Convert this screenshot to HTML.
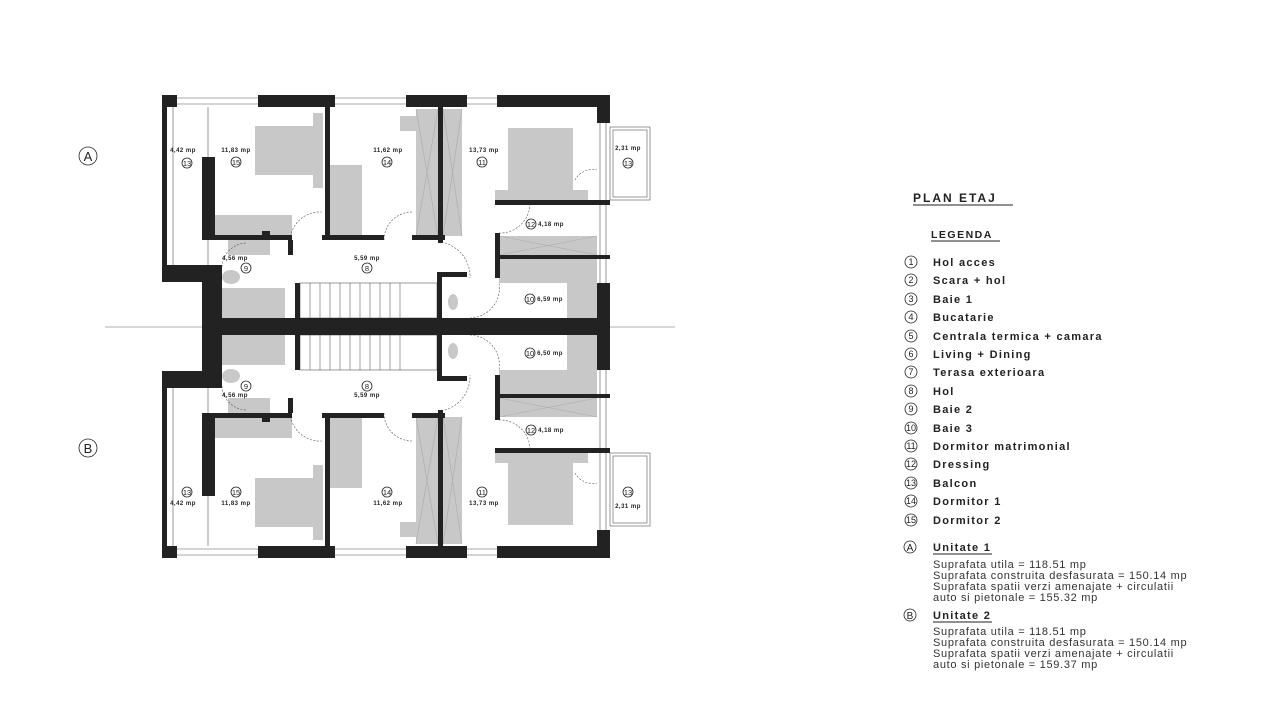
<!DOCTYPE html>
<html><head><meta charset="utf-8"><style>
html,body{margin:0;padding:0;background:#fff;}
svg{display:block;font-family:"Liberation Sans",sans-serif;}
.l{font-size:6px;fill:#222;text-anchor:middle;letter-spacing:0.5px;font-weight:bold}
.c{fill:none;stroke:#222;stroke-width:0.8}
.n{font-size:7.5px;fill:#222;text-anchor:middle}
.m{font-size:9px;fill:#222;text-anchor:middle}
.lg{font-size:11px;font-weight:bold;fill:#222;letter-spacing:1.3px}
.t{font-size:11px;fill:#333;letter-spacing:0.7px}
</style></head><body>
<svg width="1270" height="710" viewBox="0 0 1270 710" xmlns="http://www.w3.org/2000/svg">
<line x1="105" y1="327" x2="675" y2="327" stroke="#999" stroke-width="0.8"/>
<defs>
<g id="half">
 <g fill="#c8c8c8">
  <rect x="255" y="126" width="58" height="49"/>
  <rect x="313" y="113" width="10" height="75"/>
  <rect x="215" y="215" width="77" height="20"/>
  <rect x="330" y="165" width="32" height="70"/>
  <rect x="400" y="116" width="25" height="15"/>
  <rect x="416" y="109" width="22" height="127"/>
  <rect x="443" y="109" width="19" height="127"/>
  <rect x="508" y="128" width="65" height="72"/>
  <rect x="495" y="190" width="93" height="10"/>
  <rect x="499" y="236" width="98" height="19"/>
  <rect x="499" y="259" width="98" height="24"/>
  <rect x="567" y="283" width="30" height="35"/>
  <rect x="228" y="240" width="42" height="15"/>
  <rect x="222" y="288" width="63" height="30"/>
  <ellipse cx="231" cy="277" rx="9" ry="7"/>
  <ellipse cx="453" cy="302" rx="5" ry="8"/>
 </g>
 <g stroke="#aaa" stroke-width="0.6" fill="none">
  <path d="M416 109L438 236M438 109L416 236M443 109L462 236M462 109L443 236M499 236L597 255M597 236L499 255"/>
 </g>
 <rect x="300" y="283" width="137" height="35" fill="#fff" stroke="#555" stroke-width="0.6"/>
 <g stroke="#666" stroke-width="0.6">
  <path d="M310 283V318M320 283V318M330 283V318M340 283V318M350 283V318M360 283V318M370 283V318M380 283V318M390 283V318M400 283V318"/>
 </g>
 <g stroke="#555" stroke-width="0.6" fill="none">
  <path d="M177 98H258M177 104H258M335 98H406M335 104H406M467 98H497M467 104H497"/>
  <path d="M600 123V283M606 123V283M173 107V265M208 107V265"/>
  <rect x="610" y="127" width="40" height="73"/>
  <rect x="613" y="130" width="34" height="67"/>
  <path d="M290 240A30 30 0 0 1 322 212M384 240A28 28 0 0 1 412 212M445 243A35 35 0 0 1 470 278M499 233A30 30 0 0 0 530 205M470 318A30 30 0 0 0 499 283M222 267A25 25 0 0 1 247 243M575 180A20 20 0 0 1 597 170" stroke-dasharray="2,1.5"/>
 </g>
 <g fill="#222">
  <rect x="162" y="95" width="15" height="12"/>
  <rect x="258" y="95" width="77" height="12"/>
  <rect x="406" y="95" width="61" height="12"/>
  <rect x="497" y="95" width="113" height="12"/>
  <rect x="597" y="95" width="13" height="28"/>
  <rect x="597" y="283" width="13" height="44"/>
  <rect x="162" y="107" width="5" height="160"/>
  <rect x="202" y="157" width="13" height="83"/>
  <rect x="162" y="265" width="60" height="17"/>
  <rect x="202" y="265" width="20" height="62"/>
  <rect x="202" y="318" width="408" height="9"/>
  <rect x="325" y="107" width="5" height="133"/>
  <rect x="208" y="235" width="84" height="5"/>
  <rect x="322" y="235" width="62" height="5"/>
  <rect x="412" y="235" width="33" height="5"/>
  <rect x="438" y="107" width="5" height="136"/>
  <rect x="288" y="240" width="5" height="15"/>
  <rect x="262" y="231" width="8" height="6"/>
  <rect x="495" y="200" width="115" height="5"/>
  <rect x="495" y="233" width="5" height="45"/>
  <rect x="499" y="255" width="111" height="4"/>
  <rect x="437" y="272" width="5" height="46"/>
  <rect x="437" y="272" width="30" height="5"/>
  <rect x="295" y="283" width="5" height="35"/>
 </g>
</g>
</defs>
<use href="#half"/>
<g transform="matrix(1,0,0,-1,0,653)"><use href="#half"/></g>

<g>
<text class="l" x="183" y="152">4,42 mp</text><circle class="c" cx="187" cy="163" r="5"/><text class="n" x="187" y="166">13</text>
<text class="l" x="236" y="152">11,83 mp</text><circle class="c" cx="236" cy="162" r="5"/><text class="n" x="236" y="165">15</text>
<text class="l" x="388" y="152">11,62 mp</text><circle class="c" cx="387" cy="162" r="5"/><text class="n" x="387" y="165">14</text>
<text class="l" x="484" y="152">13,73 mp</text><circle class="c" cx="482" cy="162" r="5"/><text class="n" x="482" y="165">11</text>
<text class="l" x="628" y="150">2,31 mp</text><circle class="c" cx="628" cy="163" r="5"/><text class="n" x="628" y="166">13</text>
<circle class="c" cx="531" cy="224" r="5"/><text class="n" x="531" y="227">12</text><text class="l" x="551" y="226">4,18 mp</text>
<text class="l" x="235" y="260">4,56 mp</text><circle class="c" cx="246" cy="268" r="5"/><text class="n" x="246" y="271">9</text>
<text class="l" x="367" y="260">5,59 mp</text><circle class="c" cx="367" cy="268" r="5"/><text class="n" x="367" y="271">8</text>
<circle class="c" cx="530" cy="299" r="5"/><text class="n" x="530" y="302">10</text><text class="l" x="550" y="301">6,59 mp</text>
</g>
<g>
<circle class="c" cx="530" cy="353" r="5"/><text class="n" x="530" y="356">10</text><text class="l" x="550" y="355">6,50 mp</text>
<circle class="c" cx="246" cy="386" r="5"/><text class="n" x="246" y="389">9</text><text class="l" x="235" y="397">4,56 mp</text>
<circle class="c" cx="367" cy="386" r="5"/><text class="n" x="367" y="389">8</text><text class="l" x="367" y="397">5,59 mp</text>
<circle class="c" cx="531" cy="430" r="5"/><text class="n" x="531" y="433">12</text><text class="l" x="551" y="432">4,18 mp</text>
<circle class="c" cx="187" cy="492" r="5"/><text class="n" x="187" y="495">13</text><text class="l" x="183" y="505">4,42 mp</text>
<circle class="c" cx="236" cy="492" r="5"/><text class="n" x="236" y="495">15</text><text class="l" x="236" y="505">11,83 mp</text>
<circle class="c" cx="387" cy="492" r="5"/><text class="n" x="387" y="495">14</text><text class="l" x="388" y="505">11,62 mp</text>
<circle class="c" cx="482" cy="492" r="5"/><text class="n" x="482" y="495">11</text><text class="l" x="484" y="505">13,73 mp</text>
<circle class="c" cx="628" cy="492" r="5"/><text class="n" x="628" y="495">13</text><text class="l" x="628" y="508">2,31 mp</text>
</g>
<circle class="c" cx="88" cy="156" r="9"/><text x="88" y="161" text-anchor="middle" font-size="13" fill="#222">A</text>
<circle class="c" cx="88" cy="448" r="9"/><text x="88" y="453" text-anchor="middle" font-size="13" fill="#222">B</text>

<text class="lg" x="913" y="202" style="letter-spacing:2px;font-size:12px">PLAN ETAJ</text>
<line x1="913" y1="205" x2="1013" y2="205" stroke="#222" stroke-width="1"/>
<text class="lg" x="931" y="238" style="letter-spacing:1.5px;font-size:10.5px">LEGENDA</text>
<line x1="931" y1="241" x2="1000" y2="241" stroke="#222" stroke-width="1"/>
<g>
<circle class="c" cx="911" cy="262" r="6"/><text class="m" x="911" y="265">1</text><text class="lg" x="933" y="266">Hol acces</text>
<circle class="c" cx="911" cy="280" r="6"/><text class="m" x="911" y="283">2</text><text class="lg" x="933" y="284">Scara + hol</text>
<circle class="c" cx="911" cy="299" r="6"/><text class="m" x="911" y="302">3</text><text class="lg" x="933" y="303">Baie 1</text>
<circle class="c" cx="911" cy="317" r="6"/><text class="m" x="911" y="320">4</text><text class="lg" x="933" y="321">Bucatarie</text>
<circle class="c" cx="911" cy="336" r="6"/><text class="m" x="911" y="339">5</text><text class="lg" x="933" y="340">Centrala termica + camara</text>
<circle class="c" cx="911" cy="354" r="6"/><text class="m" x="911" y="357">6</text><text class="lg" x="933" y="358">Living + Dining</text>
<circle class="c" cx="911" cy="372" r="6"/><text class="m" x="911" y="375">7</text><text class="lg" x="933" y="376">Terasa exterioara</text>
<circle class="c" cx="911" cy="391" r="6"/><text class="m" x="911" y="394">8</text><text class="lg" x="933" y="395">Hol</text>
<circle class="c" cx="911" cy="409" r="6"/><text class="m" x="911" y="412">9</text><text class="lg" x="933" y="413">Baie 2</text>
<circle class="c" cx="911" cy="428" r="6"/><text class="m" x="911" y="431">10</text><text class="lg" x="933" y="432">Baie 3</text>
<circle class="c" cx="911" cy="446" r="6"/><text class="m" x="911" y="449">11</text><text class="lg" x="933" y="450">Dormitor matrimonial</text>
<circle class="c" cx="911" cy="464" r="6"/><text class="m" x="911" y="467">12</text><text class="lg" x="933" y="468">Dressing</text>
<circle class="c" cx="911" cy="483" r="6"/><text class="m" x="911" y="486">13</text><text class="lg" x="933" y="487">Balcon</text>
<circle class="c" cx="911" cy="501" r="6"/><text class="m" x="911" y="504">14</text><text class="lg" x="933" y="505">Dormitor 1</text>
<circle class="c" cx="911" cy="520" r="6"/><text class="m" x="911" y="523">15</text><text class="lg" x="933" y="524">Dormitor 2</text>
</g>
<circle class="c" cx="910" cy="547" r="6"/><text class="m" x="910" y="551" style="font-size:10px">A</text>
<text class="lg" x="933" y="551">Unitate 1</text><line x1="933" y1="554" x2="992" y2="554" stroke="#222"/>
<text class="t" x="933" y="568">Suprafata utila = 118.51 mp</text>
<text class="t" x="933" y="579">Suprafata construita desfasurata = 150.14 mp</text>
<text class="t" x="933" y="590">Suprafata spatii verzi amenajate + circulatii</text>
<text class="t" x="933" y="601">auto si pietonale = 155.32 mp</text>
<circle class="c" cx="910" cy="615" r="6"/><text class="m" x="910" y="619" style="font-size:10px">B</text>
<text class="lg" x="933" y="619">Unitate 2</text><line x1="933" y1="622" x2="992" y2="622" stroke="#222"/>
<text class="t" x="933" y="635">Suprafata utila = 118.51 mp</text>
<text class="t" x="933" y="646">Suprafata construita desfasurata = 150.14 mp</text>
<text class="t" x="933" y="657">Suprafata spatii verzi amenajate + circulatii</text>
<text class="t" x="933" y="668">auto si pietonale = 159.37 mp</text>
</svg>
</body></html>
